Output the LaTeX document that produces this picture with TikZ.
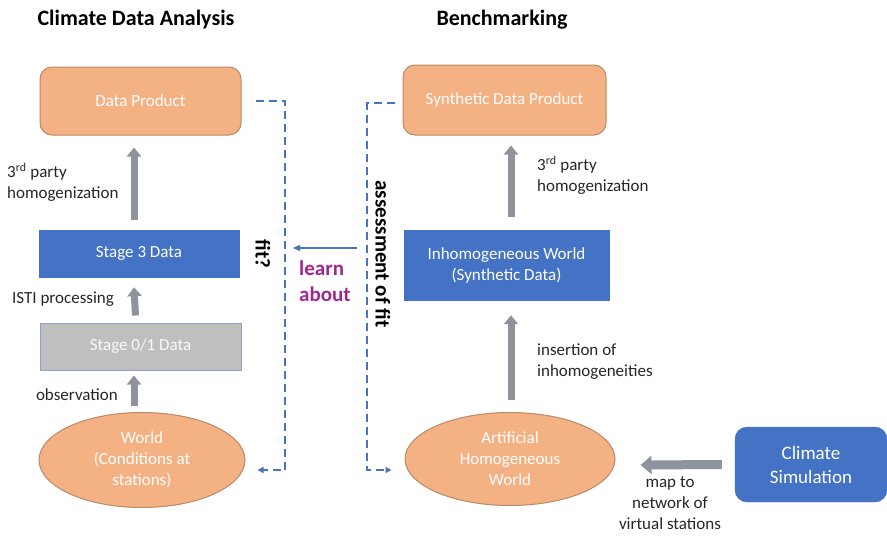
\documentclass[tikz,border=0pt]{standalone}
\usepackage{fontspec}
\setmainfont{Carlito}
\usetikzlibrary{arrows.meta,shapes.geometric}
\definecolor{orfill}{HTML}{F4B183}
\definecolor{ordraw}{HTML}{B98A68}
\definecolor{bluefill}{HTML}{4472C4}
\definecolor{grayfill}{HTML}{BFBFBF}
\definecolor{graydraw}{HTML}{8FA3C8}
\definecolor{arrowgray}{HTML}{8E939C}
\definecolor{dashblue}{HTML}{4A72C0}
\definecolor{learncol}{HTML}{A1288E}
\definecolor{labelcol}{HTML}{262626}
\tikzset{
  txt/.style={font=\fontsize{17}{21}\selectfont},
  orbox/.style={txt, draw=ordraw, line width=1pt, fill=orfill, text=white, rounded corners=12pt, align=center, inner sep=0pt},
  bluebox/.style={txt, draw=bluefill, fill=bluefill, text=white, align=center, inner sep=0pt},
  graybox/.style={txt, draw=graydraw, line width=1pt, fill=grayfill, text=white!95!gray, align=center, inner sep=0pt},
  orell/.style={txt, ellipse, draw=ordraw, line width=1pt, fill=orfill, text=white, align=center, inner sep=0pt},
  blockarrow/.style={draw=arrowgray, fill=arrowgray, line width=7pt, -{Triangle[length=9pt,width=14pt]}},
  dashline/.style={dashblue, line width=1.8pt, dash pattern=on 8pt off 5pt, -{Triangle[length=6pt,width=6pt]}},
  lbl/.style={txt, text=labelcol, align=left, inner sep=0pt},
  boldlbl/.style={font=\fontsize{21}{26}\selectfont\bfseries, inner sep=0pt},
  title/.style={font=\fontsize{22}{26}\selectfont\bfseries, inner sep=0pt}
}
\begin{document}
\begin{tikzpicture}[x=1pt,y=-1pt]
\useasboundingbox (0,0) rectangle (887,536);
% titles
\node[title] (t1) at (136,20) {Climate Data Analysis};
\node[title] (t2) at (502,20) {Benchmarking};
% left column
\node[orbox, minimum width=201pt, minimum height=68pt] (dp) at (140.5,101) {Data Product};
\node[bluebox, minimum width=200pt, minimum height=47pt] (s3) at (139,253.5) {Stage 3 Data};
\node[graybox, minimum width=201pt, minimum height=47pt] (s01) at (140.5,346.5) {Stage 0/1 Data};
\node[orell, minimum width=206pt, minimum height=95pt] (world) at (142,460) {World\\(Conditions at\\stations)};
% right column
\node[orbox, minimum width=203pt, minimum height=70pt] (sdp) at (504.5,100) {Synthetic Data Product};
\node[bluebox, minimum width=205pt, minimum height=70pt] (iw) at (506.5,265) {Inhomogeneous World\\(Synthetic Data)};
\node[orell, minimum width=210pt, minimum height=93pt] (ahw) at (510,459) {Artificial\\Homogeneous\\World};
\node[bluebox, rounded corners=12pt, minimum width=152pt, minimum height=75pt, font=\fontsize{19}{24}\selectfont] (cs) at (811,464.5) {Climate\\Simulation};
% block arrows
\draw[blockarrow] ([xshift=-5pt,yshift=10pt]s3.north) -- ([xshift=-6.5pt,yshift=-12pt]dp.south);
\draw[blockarrow] ([xshift=-5pt,yshift=7pt]s01.north) -- ([xshift=-5pt,yshift=-10pt]s3.south);
\draw[blockarrow] ([xshift=-8pt,yshift=6pt]world.north) -- ([xshift=-6.5pt,yshift=-5pt]s01.south);
\draw[blockarrow] ([xshift=4.5pt,yshift=13pt]iw.north) -- ([xshift=6.5pt,yshift=-10pt]sdp.south);
\draw[blockarrow] ([xshift=1pt,yshift=12pt]ahw.north) -- ([xshift=4.5pt,yshift=-15pt]iw.south);
\draw[blockarrow, line width=9pt, -{Triangle[length=11pt,width=18pt]}] ([xshift=-13pt]cs.west) -- ([xshift=25pt,yshift=-6pt]ahw.east);
% labels
\node[lbl, anchor=west] (l1) at (7,182) {3\textsuperscript{rd} party\\homogenization};
\node[lbl, anchor=west] (l2) at (12,299) {ISTI processing};
\node[lbl, anchor=east] (l3) at (118,395) {observation};
\node[lbl, anchor=west] (l4) at (537,175) {3\textsuperscript{rd} party\\homogenization};
\node[lbl, anchor=west] (l5) at (537,362) {insertion of\\inhomogeneities};
\node[lbl, align=center] (l6) at (670,503) {map to\\network of\\virtual stations};
% dashed connectors
\coordinate (lc) at (285,470);
\coordinate (rc) at (367,470);
\draw[dashline] ([xshift=14pt]dp.east) -| (lc) -- ([xshift=12pt,yshift=-10pt]world.east);
\draw[dashline] ([xshift=-8pt,yshift=-3pt]sdp.west) -| (rc) -- ([xshift=-13pt,yshift=-11pt]ahw.west);
% learn about
\coordinate (la1) at (357,248);
\coordinate (la2) at (293,248);
\draw[dashblue, line width=1.3pt, -{Triangle[length=7pt,width=6pt]}] (la1) -- (la2);
\node[boldlbl, text=learncol, align=left, anchor=west] (learn) at (299,281) {learn\\about};
\node[boldlbl, rotate=-90] (fit) at (263,254) {fit?};
\node[boldlbl, rotate=-90] (assess) at (383,254) {assessment of fit};
\end{tikzpicture}
\end{document}
